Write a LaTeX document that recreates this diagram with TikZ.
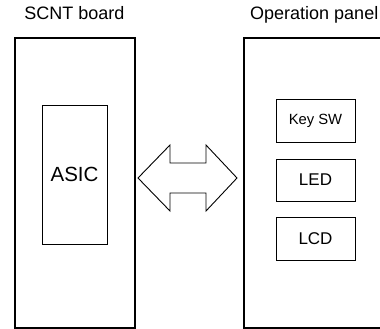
\documentclass[tikz,border=0pt]{standalone}
\usepackage{fontspec}
\setmainfont{Liberation Sans}
\begin{document}
\begin{tikzpicture}[x=1pt,y=-1pt,
  board/.style={draw, line width=2pt},
  part/.style={draw, line width=0.9pt, inner sep=0pt},
  lbl/.style={font=\fontsize{18}{21}\selectfont, anchor=base, inner sep=0pt}]
\useasboundingbox (0,0) rectangle (380,329);
\clip (0,0) rectangle (380,329);
% boards
\draw[board] (14.5,38) rectangle (135,327.5);
\draw[board] (244,38) rectangle (395,327.5);
\node[lbl] (t1) at (74.5,20) {SCNT board};
\node[lbl, anchor=base west] (t2) at (250,20) {Operation panel};
% ASIC
\node[part, minimum width=65pt, minimum height=139pt,
  font=\fontsize{20.5}{23}\selectfont] (asic) at (74.5,174.5) {ASIC};
% panel parts
\node[part, minimum width=79pt, minimum height=43pt,
  font=\fontsize{14.8}{17}\selectfont] (key) at (315.5,120.5) {Key SW};
\node[part, minimum width=79pt, minimum height=42pt,
  font=\fontsize{17}{20}\selectfont] (led) at (315.5,180) {LED};
\node[part, minimum width=79pt, minimum height=43pt,
  font=\fontsize{17}{20}\selectfont] (lcd) at (315.5,238.5) {LCD};
% double arrow
\coordinate (lt) at (138,178);
\coordinate (rt) at (237,178);
\draw[line width=0.9pt, line join=miter]
  (lt) -- (170,145) -- (170,163) -- (206,163) -- (206,145) -- (rt)
  -- (206,211) -- (206,193) -- (170,193) -- (170,211) -- cycle;
\end{tikzpicture}
\end{document}
